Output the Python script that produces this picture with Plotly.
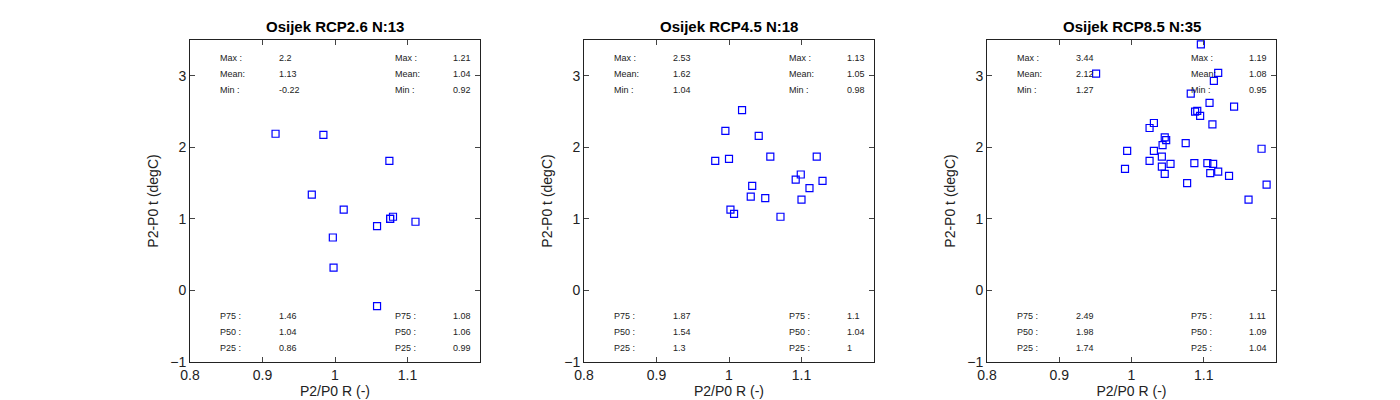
import plotly.graph_objects as go

titles = ["Osijek RCP2.6 N:13", "Osijek RCP4.5 N:18", "Osijek RCP8.5 N:35"]
x1 = [0.918, 0.984, 1.075, 0.968, 1.012, 0.997, 1.058, 1.076, 1.080, 1.111, 0.998, 1.058, 1.076]
y1 = [2.19, 2.175, 1.81, 1.34, 1.13, 0.74, 0.90, 1.00, 1.03, 0.96, 0.32, -0.22, 1.00]
x2 = [1.018, 0.995, 1.041, 0.981, 1.000, 1.057, 1.121, 1.099, 1.092, 1.129, 1.111, 1.032, 1.030, 1.050, 1.100, 1.002, 1.007, 1.071]
y2 = [2.52, 2.23, 2.16, 1.81, 1.84, 1.87, 1.87, 1.62, 1.55, 1.53, 1.43, 1.46, 1.31, 1.29, 1.27, 1.13, 1.07, 1.03]
x3 = [1.096, 0.951, 1.120, 1.114, 1.082, 1.108, 1.142, 1.088, 1.091, 1.095, 1.031, 1.025, 1.112, 1.046, 1.048, 1.043,
      1.075, 0.994, 1.031, 1.180, 1.042, 1.025, 1.054, 1.087, 1.105, 1.113, 0.991, 1.042, 1.046, 1.109, 1.120, 1.135,
      1.077, 1.187, 1.162]
y3 = [3.44, 3.03, 3.04, 2.93, 2.75, 2.62, 2.57, 2.50, 2.51, 2.44, 2.34, 2.27, 2.32, 2.14, 2.10, 2.03,
      2.06, 1.95, 1.95, 1.98, 1.87, 1.81, 1.77, 1.78, 1.78, 1.77, 1.70, 1.73, 1.63, 1.64, 1.66, 1.60,
      1.50, 1.48, 1.27]
xs = [x1, x2, x3]
ys = [y1, y2, y3]

top_labels = ["Max :", "Mean:", "Min :"]
bot_labels = ["P75 :", "P50 :", "P25 :"]
top_t = [["2.2", "1.13", "-0.22"], ["2.53", "1.62", "1.04"], ["3.44", "2.12", "1.27"]]
top_r = [["1.21", "1.04", "0.92"], ["1.13", "1.05", "0.98"], ["1.19", "1.08", "0.95"]]
bot_t = [["1.46", "1.04", "0.86"], ["1.87", "1.54", "1.3"], ["2.49", "1.98", "1.74"]]
bot_r = [["1.08", "1.06", "0.99"], ["1.1", "1.04", "1"], ["1.11", "1.09", "1.04"]]

doms = [(182, 472), (576, 866), (979, 1268)]
fig = go.Figure()
ann = []
for i in range(3):
    s = "" if i == 0 else str(i + 1)
    fig.add_trace(go.Scatter(x=xs[i], y=ys[i], mode="markers", xaxis="x" + s, yaxis="y" + s,
                             marker=dict(symbol="square-open", size=7, color="blue", line=dict(width=1.2)),
                             showlegend=False))
    ax = dict(domain=[doms[i][0] / 1400, doms[i][1] / 1400], range=[0.8, 1.2], tickvals=[0.8, 0.9, 1, 1.1],
              ticktext=["0.8", "0.9", "1", "1.1"], ticks="inside", ticklen=5, mirror="ticks", showline=True,
              linecolor="#222", linewidth=1, showgrid=False, zeroline=False, automargin=False,
              tickfont=dict(size=14, color="#222"), anchor="y" + s,
              title=dict(text="P2/P0 R (-)", font=dict(size=14, color="#222"), standoff=4))
    ay = dict(domain=[0.115, 0.92], range=[-1, 3.5], tickvals=[-1, 0, 1, 2, 3], ticks="inside", ticklen=5,
              mirror="ticks", showline=True, linecolor="#222", linewidth=1, showgrid=False, zeroline=False,
              automargin=False, tickfont=dict(size=14, color="#222"), anchor="x" + s,
              title=dict(text="P2-P0 t (degC)", font=dict(size=14, color="#222"), standoff=8))
    fig.update_layout(**{"xaxis" + s: ax, "yaxis" + s: ay})
    ann.append(dict(text="<b>" + titles[i] + "</b>", xref="x" + s + " domain", yref="paper", x=0.5, y=1 - 18 / 400,
                    showarrow=False, font=dict(size=15, color="black"), yanchor="middle"))
    for rows, lab, yv in [(top_labels, (top_t, top_r), [3.25, 3.03, 2.80]),
                          (bot_labels, (bot_t, bot_r), [-0.355, -0.578, -0.80])]:
        for k in range(3):
            for xv, t in [(0.839, rows[k]), (0.92, lab[0][i][k]), (1.08, rows[k]), (1.16, lab[1][i][k])]:
                ann.append(dict(text=t, x=xv, y=yv[k], xref="x" + s, yref="y" + s, showarrow=False,
                                xanchor="left", yanchor="middle", font=dict(size=9, color="#222")))
fig.update_layout(width=1400, height=400, margin=dict(l=0, r=0, t=0, b=0), plot_bgcolor="white",
                  paper_bgcolor="white", font=dict(family="Liberation Sans, Arial"), annotations=ann)
fig.write_html("out.html")
